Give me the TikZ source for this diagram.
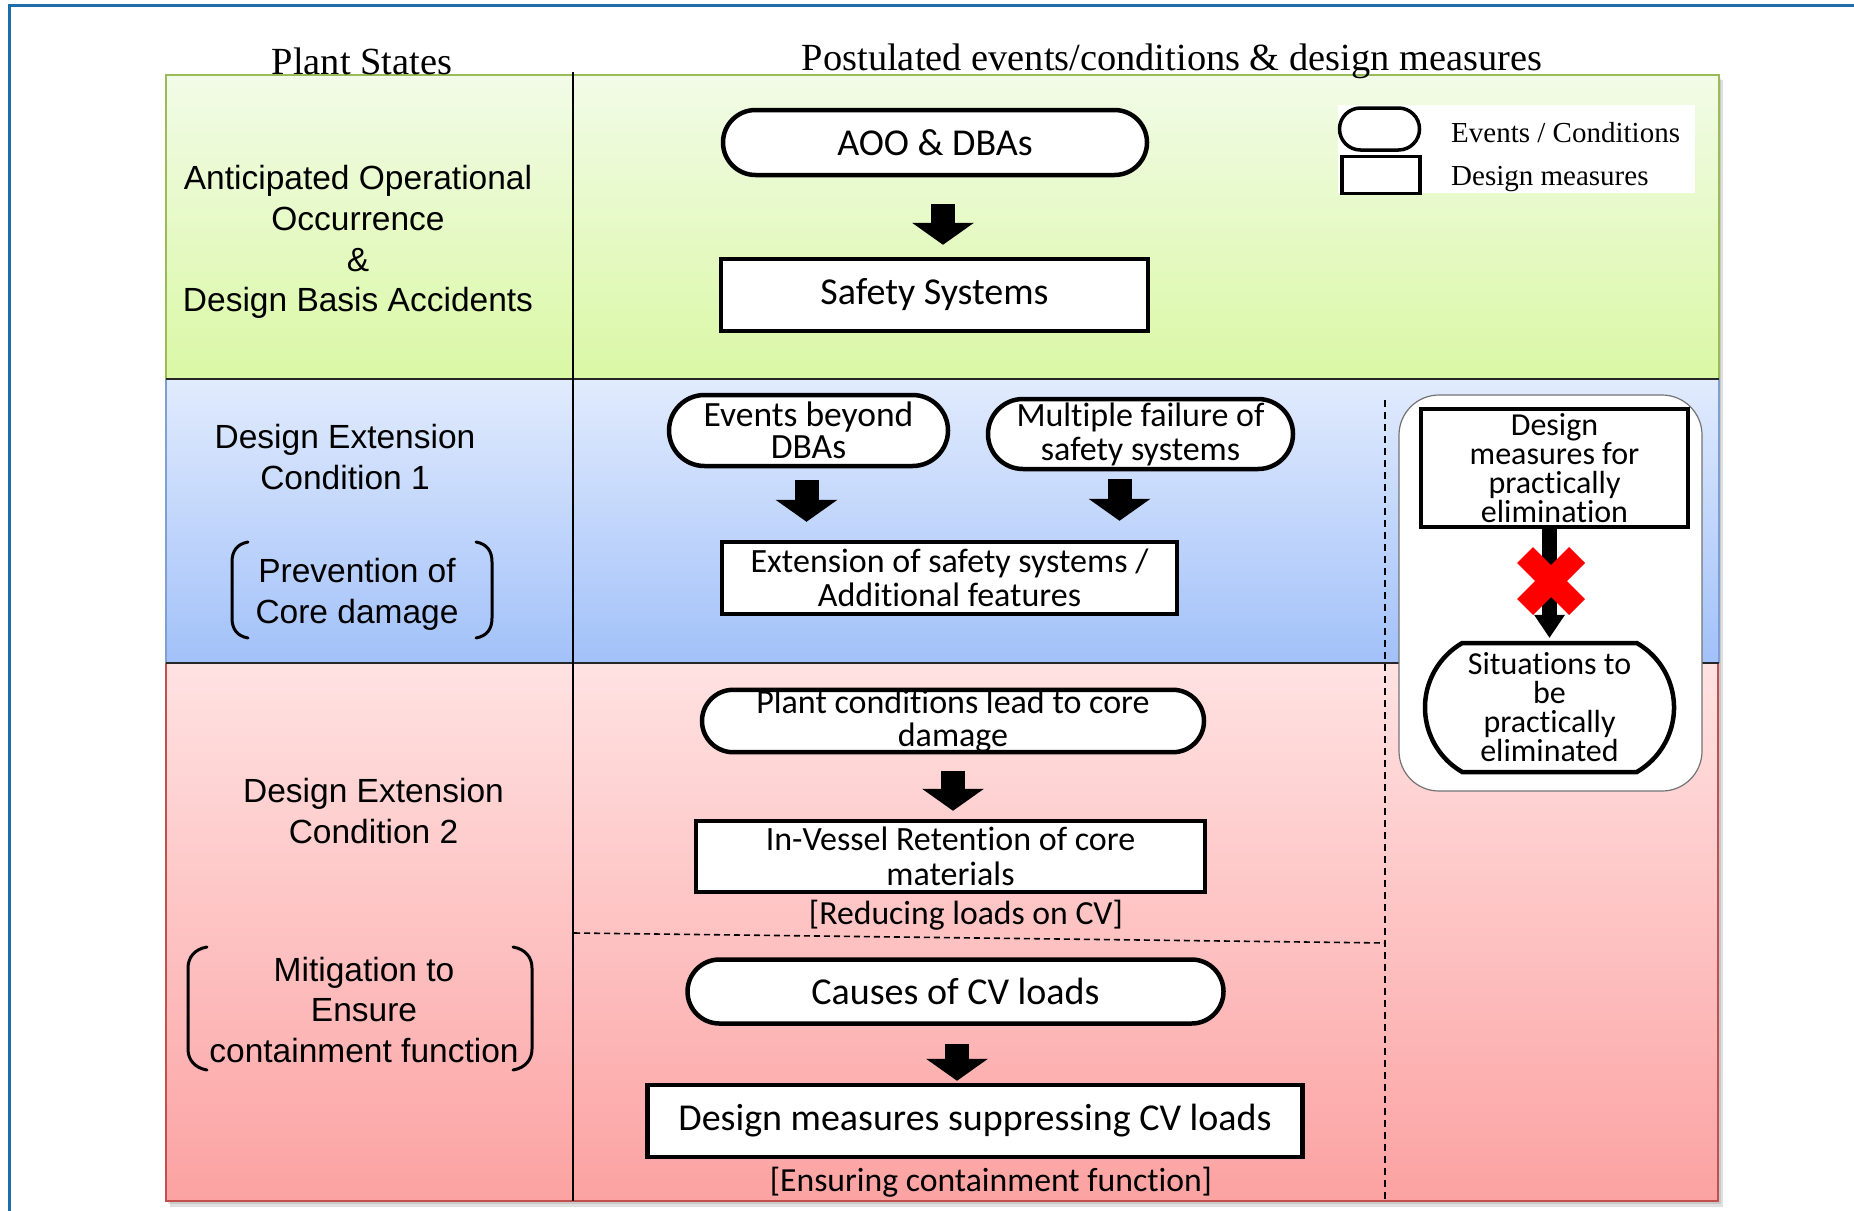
\documentclass[tikz,border=0pt]{standalone}
\usepackage{fontspec}
\setmainfont{Liberation Serif}
\newfontfamily\arialf{Liberation Sans}
\newfontfamily\calf[Ligatures=NoCommon, Contextuals=NoAlternate, RawFeature={-liga;-clig;-dlig;-calt}]{Carlito}
\usetikzlibrary{shapes.misc,arrows.meta,calc}

\definecolor{frameblue}{HTML}{1F6EAA}
\definecolor{gTop}{HTML}{F2FBE7}
\definecolor{gBot}{HTML}{DAF8A5}
\definecolor{bTop}{HTML}{E1EBFD}
\definecolor{bBot}{HTML}{A2C1F9}
\definecolor{rTop}{HTML}{FFE2E2}
\definecolor{rBot}{HTML}{FCA2A2}
\definecolor{gEdge}{HTML}{9BBB59}
\definecolor{bEdge}{HTML}{7F9FD3}
\definecolor{rEdge}{HTML}{C0504D}

\newcommand\setfs[2]{\fontsize{#1}{#2}\selectfont}

\begin{document}
\begin{tikzpicture}[x=1pt,y=-1pt,
  evt/.style={rounded rectangle, draw, line width=4.5pt, fill=white, inner sep=0pt, align=center},
  dmbox/.style={rectangle, draw, line width=4.5pt, fill=white, inner sep=0pt, align=center},
  cal38/.style={font=\calf\setfs{38}{40}},
  cal34/.style={font=\calf\setfs{34}{34}},
  leftlbl/.style={font=\arialf\setfs{33.5}{40.7}, align=center, inner sep=0pt},
  hdr/.style={font=\setfs{38.4}{44}, inner sep=0pt, anchor=base},
  legtxt/.style={font=\setfs{29}{32}, inner sep=0pt, anchor=base west},
  note/.style={font=\calf\setfs{33.7}{36}, inner sep=0pt, anchor=base},
  barrow/.style={line width=24pt, -{Triangle[width=62pt,length=22pt,line width=0pt]}},
  sarrow/.style={line width=15pt, -{Triangle[width=31pt,length=23pt,line width=0pt]}},
  brack/.style={line width=3pt, line cap=round},
  rowedge/.style={line width=1.6pt},
  divider/.style={line width=2pt, black!85},
  dashdiv/.style={line width=1.6pt, dash pattern=on 7pt off 5pt}
]
\useasboundingbox (0,0) rectangle (1854,1210);

% outer frame
\draw[frameblue, line width=3pt] (9.5,1215) -- (9.5,5.5) -- (1860,5.5);

% shadow
\fill[black, opacity=0.12] (170,80) rectangle (1723,1207);
\fill[black, opacity=0.10] (168,78) rectangle (1721,1204);

% rows
\shade[top color=gTop, bottom color=gBot] (166,75) rectangle (1719,379);
\shade[top color=bTop, bottom color=bBot] (166,379) rectangle (1719,663);
\shade[top color=rTop, bottom color=rBot] (166,663) rectangle (1718,1201);
\draw[gEdge, rowedge] (166,379) -- (166,75) -- (1719,75) -- (1719,379);
\draw[bEdge, rowedge] (166,379) -- (166,663) (1719,379) -- (1719,663);
\draw[rEdge, rowedge] (166,663) -- (166,1201) -- (1718,1201) -- (1718,663);
\draw[divider] (166,379) -- (1719,379);
\draw[divider] (166,663) -- (1719,663);
\draw[line width=1.5pt] (573,72) -- (573,1201);

% dashed separators
\draw[dashdiv] (1385,400) -- (1385,1201);
\draw[dashdiv, dash pattern=on 6pt off 4pt] (574,933) -- (1385,943);

% headers
\node[hdr] (hdrL) at (362,74) {Plant States};
\node[hdr] (hdrR) at (1172,70) {Postulated events/conditions \& design measures};

% left column
\node[leftlbl] (st1) at (358,242) {Anticipated Operational\\Occurrence\\\&\\Design Basis Accidents};
\node[leftlbl] (st2) at (345,457) {Design Extension\\Condition 1};
\node[leftlbl] (st2b) at (357,594) {Prevention of\\Core damage};
\node[leftlbl] (st3) at (373.5,811) {Design Extension\\Condition 2};
\node[leftlbl] (st3b) at (364,1010) {Mitigation to\\Ensure\\containment function};

% brackets
\draw[brack] (248,542) .. controls (237,544) and (232,551) .. (232,562) -- (232,618) .. controls (232,629) and (237,636) .. (248,638);
\draw[brack] (476,542) .. controls (487,544) and (492,551) .. (492,562) -- (492,618) .. controls (492,629) and (487,636) .. (476,638);
\draw[brack] (207,947) .. controls (195,949) and (188,957) .. (188,968) -- (188,1049) .. controls (188,1060) and (195,1068) .. (207,1070);
\draw[brack] (513,947) .. controls (525,949) and (532,957) .. (532,968) -- (532,1049) .. controls (532,1060) and (525,1068) .. (513,1070);

% legend
\node[fill=white, minimum width=357, minimum height=88, inner sep=0pt] (legbg) at (1516,149) {};
\node[evt, line width=3.5pt, minimum width=80, minimum height=42] (legE) at (1379.5,129) {};
\node[dmbox, line width=3.5pt, minimum width=78, minimum height=37] (legD) at (1381,175) {};
\node[legtxt] (legEt) at (1451,142) {Events / Conditions};
\node[legtxt] (legDt) at (1451,185) {Design measures};

% row 1
\node[evt, cal38, minimum width=424, minimum height=65] (aoo) at (935,142.5) {AOO \& DBAs};
\node[dmbox, cal38, minimum width=427, minimum height=72] (safety) at (934.5,295) {\raisebox{-3pt}{Safety Systems}};

% row 2
\node[evt, font=\calf\setfs{35.5}{32.5}, minimum width=279, minimum height=71] (beyond) at (808.5,430.5) {Events beyond\\DBAs};
\node[evt, cal34, minimum width=305, minimum height=70] (multi) at (1140.5,434) {Multiple failure of\\safety systems};
\node[dmbox, cal34, minimum width=455, minimum height=72] (ext) at (949.5,578) {Extension of safety systems /\\Additional features};

% row 3
\node[evt, font=\calf\setfs{34}{33}, minimum width=502, minimum height=62] (plant) at (953,721) {Plant conditions lead to core\\damage};
\node[dmbox, font=\calf\setfs{34}{35}, minimum width=509, minimum height=71] (ivr) at (950.5,856.5) {In-Vessel Retention of core\\materials};
\node[note] (reduce) at (966,924) {[Reducing loads on CV]};
\node[evt, cal38, minimum width=536, minimum height=64] (causes) at (955.5,991.5) {Causes of CV loads};
\node[dmbox, cal38, minimum width=655, minimum height=72] (dmcv) at (975,1121) {\raisebox{-3pt}{Design measures suppressing CV loads}};
\node[note] (ensure) at (991,1191) {[Ensuring containment function]};

% practical elimination panel
\node[draw=black!55, line width=1.2pt, fill=white, rounded corners=40pt, minimum width=303, minimum height=396, inner sep=0pt] (panel) at (1550.5,593) {};
\node[dmbox, font=\calf\setfs{32}{28.8}, minimum width=267, minimum height=118] (dmpe) at (1554.5,468) {Design\\measures for\\practically\\elimination};
\node[evt, rounded rectangle arc length=120, font=\calf\setfs{32}{29}, minimum width=249, minimum height=129] (sit) at (1549.5,707.5) {Situations to\\be\\practically\\eliminated};

% arrows
\coordinate (a1s) at ([xshift=8pt,yshift=-27pt]aoo.south);
\draw[barrow, shorten >=12pt] (a1s) -- (a1s |- safety.north);
\coordinate (a2s) at ([xshift=-2pt,yshift=-12pt]beyond.south);
\draw[barrow, shorten >=18pt] (a2s) -- (a2s |- ext.north);
\coordinate (a3s) at ([xshift=-21pt,yshift=-8pt]multi.south);
\draw[barrow, shorten >=19pt] (a3s) -- (a3s |- ext.north);
\coordinate (a4s) at ([yshift=-17pt]plant.south);
\draw[barrow, shorten >=8pt] (a4s) -- (a4s |- ivr.north);
\coordinate (a5s) at ([xshift=1.5pt,yshift=-18.5pt]causes.south);
\draw[barrow, shorten >=2pt] (a5s) -- (a5s |- dmcv.north);
\coordinate (a6s) at ([xshift=-5pt]dmpe.south);
\draw[sarrow, shorten >=3pt] (a6s) -- (a6s |- sit.north);

% red cross
\draw[red, line width=22.6pt] (1525,555) -- (1577,607) (1577,555) -- (1525,607);
\end{tikzpicture}
\end{document}
